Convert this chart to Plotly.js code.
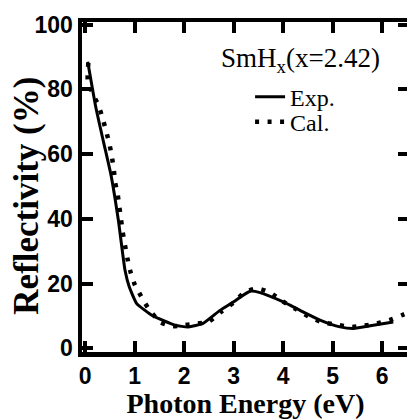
<!DOCTYPE html>
<html>
<head>
<meta charset="utf-8">
<script src="https://cdn.plot.ly/plotly-3.0.1.min.js"></script>
<style>
html,body{margin:0;padding:0;overflow:hidden;background:#fff;}
#chart{width:413px;height:419px;}
</style>
</head>
<body>
<div id="chart"></div>
<script>
// Experimental reflectivity (solid line)
const expEnergy = [0.055, 0.216, 0.37, 0.525, 0.673, 0.808, 0.895, 1.044, 1.212, 1.347, 1.818, 2.087, 2.384, 2.727, 2.996, 3.333, 3.535, 4.006, 4.343, 4.747, 5.152, 5.42, 5.824, 6.228];
const expRefl   = [88.5, 74.6, 64.0, 53.5, 39.6, 24.1, 18.9, 13.8, 11.7, 10.2, 7.1, 6.6, 7.7, 11.7, 14.3, 17.6, 17.2, 14.3, 11.7, 8.7, 6.6, 6.1, 7.1, 8.1];

// Calculated reflectivity (dotted line)
const calEnergy = [0.067, 0.055, 0.147, 0.269, 0.357, 0.424, 0.491, 0.539, 0.58, 0.606, 0.66, 0.693, 0.727, 0.76, 0.808, 0.855, 0.909, 0.996, 1.131, 1.28, 1.515, 1.75, 1.986, 2.256, 2.49, 2.76, 3.0, 3.23, 3.48, 3.74, 3.99, 4.26, 4.51, 4.78, 5.14, 5.39, 5.64, 5.89, 6.15, 6.40, 6.6];
const calRefl   = [88.2, 82.8, 78.9, 75.1, 71.0, 67.2, 63.3, 59.4, 55.5, 51.4, 47.5, 43.7, 39.8, 36.0, 31.8, 27.9, 24.1, 20.0, 16.1, 12.3, 8.1, 6.8, 7.1, 7.6, 8.1, 11.4, 14.1, 17.4, 18.5, 17.2, 14.5, 12.1, 9.9, 8.1, 7.1, 6.6, 7.0, 7.6, 8.7, 10.2, 11.5];

const xTicks = [0, 1, 2, 3, 4, 5, 6];
const yTicks = [0, 20, 40, 60, 80, 100];

const serif = 'Liberation Serif, Times New Roman, serif';
const sans = 'Liberation Sans, Arial, sans-serif';

const traces = [
  {x: expEnergy, y: expRefl, name: 'Exp.', mode: 'lines', type: 'scatter',
   line: {color: '#000', width: 3, shape: 'spline', smoothing: 0.5}, legend: 'legend'},
  {x: calEnergy, y: calRefl, name: 'Cal.', mode: 'lines', type: 'scatter',
   line: {color: '#000', width: 4.5, dash: '4px,8.5px', shape: 'spline', smoothing: 0.5}, legend: 'legend2'}
];

const axisCommon = {
  showline: true, linewidth: 4.5, linecolor: '#000', mirror: 'ticks',
  ticks: 'inside', ticklen: 11, tickwidth: 4, tickcolor: '#000',
  showgrid: false, zeroline: false,
  tickfont: {family: sans, size: 23, color: '#000', weight: 700}
};

const layout = {
  width: 413, height: 419,
  margin: {l: 82, r: 4, t: 22, b: 67},
  paper_bgcolor: '#fff', plot_bgcolor: '#fff',
  showlegend: true,
  xaxis: Object.assign({}, axisCommon, {
    range: [-0.061, 6.545], tickvals: xTicks, ticktext: xTicks.map(String),
    title: {text: 'Photon Energy (eV)', font: {family: serif, size: 28, color: '#000', weight: 700}, standoff: 3}
  }),
  yaxis: Object.assign({}, axisCommon, {
    range: [-1.16, 100.8], tickvals: yTicks, ticktext: yTicks.map(String)
  }),
  legend: {x: 0.514, y: 0.7726, xanchor: 'left', yanchor: 'middle', bgcolor: 'rgba(0,0,0,0)',
           font: {family: serif, size: 24, color: '#000'}, itemwidth: 30},
  legend2: {x: 0.514, y: 0.6967, xanchor: 'left', yanchor: 'middle', bgcolor: 'rgba(0,0,0,0)',
           font: {family: serif, size: 24, color: '#000'}, itemwidth: 30},
  annotations: [{
    text: 'SmH<sub>x</sub>(x=2.42)', xref: 'paper', yref: 'paper', x: 0.418, y: 0.885,
    xanchor: 'left', yanchor: 'middle', showarrow: false,
    font: {family: serif, size: 27, color: '#000'}
  }, {
    text: 'Reflectivity (%)', xref: 'paper', yref: 'paper', x: -0.171, y: 0.474,
    xanchor: 'center', yanchor: 'middle', textangle: -90, showarrow: false,
    font: {family: serif, size: 35, color: '#000', weight: 700}
  }]
};

Plotly.newPlot('chart', traces, layout, {displayModeBar: false, staticPlot: true});
</script>
</body>
</html>
